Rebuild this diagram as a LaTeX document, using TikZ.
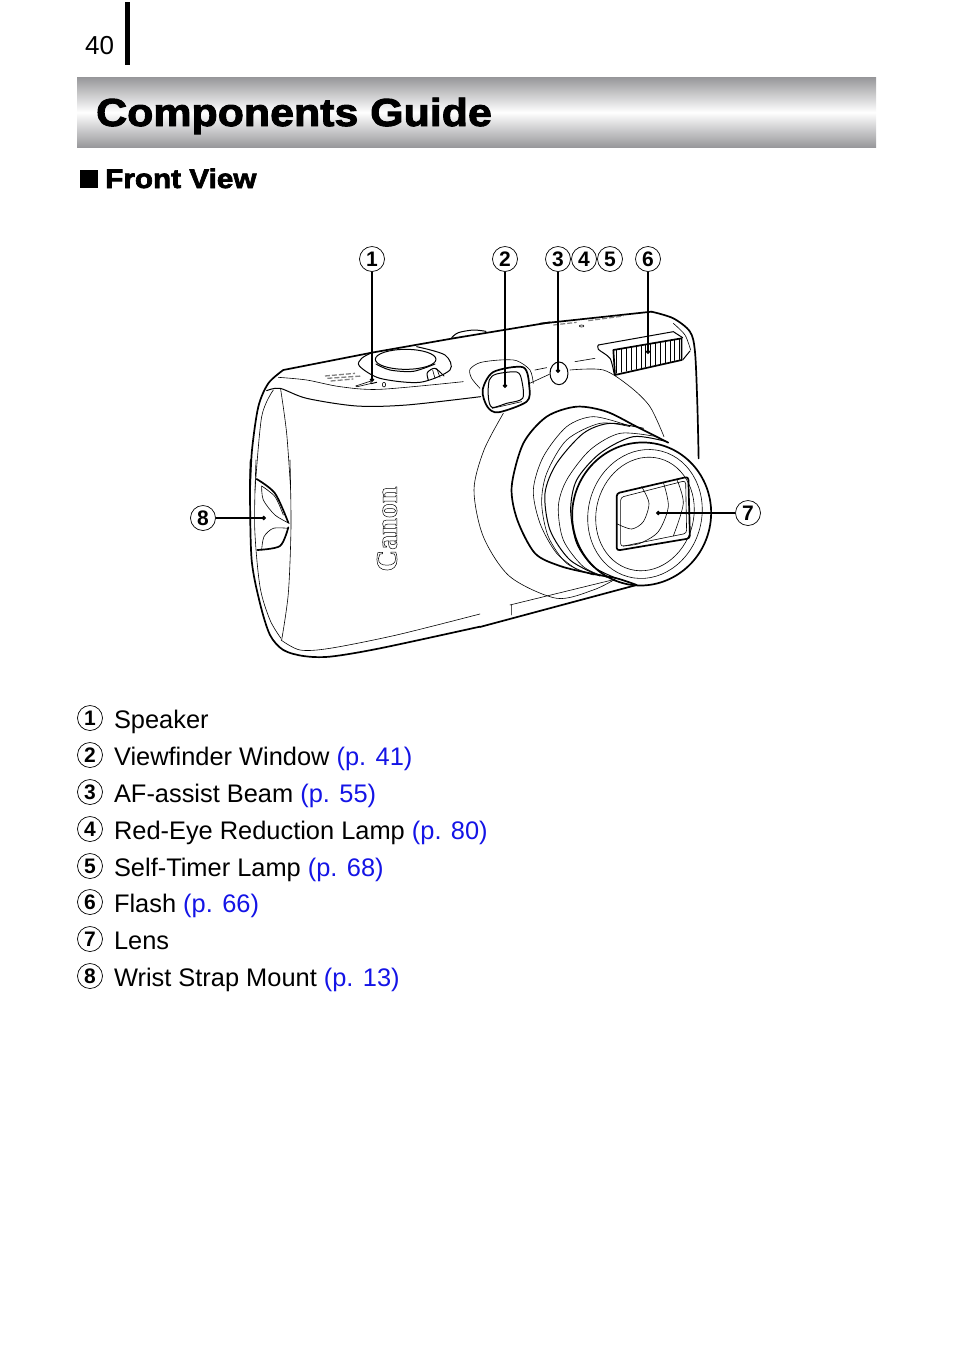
\documentclass[tikz,border=0pt]{standalone}
\usepackage{fontspec}
\setmainfont{Liberation Sans}
\newfontfamily\headfont[FakeBold=2.5,FakeStretch=1.1]{Liberation Sans Bold}
\newfontfamily\logofont{Liberation Serif Bold}
\usetikzlibrary{positioning,arrows.meta}
\definecolor{linkblue}{RGB}{20,20,230}
\definecolor{bandgray}{RGB}{150,150,153}

\begin{document}
\begin{tikzpicture}[
    x=1pt, y=-1pt,
    mark num/.style={circle, draw, line width=0.7pt, minimum size=25pt, inner sep=0pt, font=\fontsize{21}{21}\selectfont\bfseries},
    listtext/.style={inner sep=0pt, text height=24pt, text depth=3pt, font=\fontsize{25.4}{26}\selectfont},
    leader/.style={line width=1.1pt, -{Circle[length=4.5pt]}},
    heavy/.style={line width=1.7pt, line join=round, line cap=round},
    medium/.style={line width=1pt, line join=round, line cap=round},
    fine/.style={line width=0.6pt, line join=round, line cap=round},
    zoomA/.style={shift={(240,290)}, x=0.3333pt, y=-0.3333pt},
    zoomB/.style={shift={(460,290)}, x=0.3333pt, y=-0.3333pt},
    zoomC/.style={shift={(180,460)}, x=0.3333pt, y=-0.3333pt}
]
\useasboundingbox (0,0) rectangle (954,1345);

% Page head
\node[anchor=base west, inner sep=0pt, font=\fontsize{26}{26}\selectfont] (pagenum) at (85,54) {40};
\fill (125,2) rectangle (130,65);
\shade[top color=bandgray, bottom color=bandgray, middle color=white] (77,77) rectangle (876,147.6);
\node[anchor=base west, inner sep=0pt, font=\fontsize{39}{39}\selectfont\headfont] (title) at (96,126) {Components Guide};
\fill (80,170) rectangle (98,188);
\node[anchor=base west, inner sep=0pt, font=\fontsize{27}{27}\selectfont\headfont] (front) at (105,188) {Front View};

% Body, top and left side
\begin{scope}[zoomA]
\draw[heavy] plot[smooth] coordinates {(30,600) (36,480) (55,350) (85,280) (130,240)};
\draw[heavy] (130,240) -- (395,188) -- (640,145) -- (930,97);
\draw[medium] plot[smooth] coordinates {(635,143) (655,128) (700,120) (738,124)};
\draw[fine] plot[smooth] coordinates {(115,262) (200,270) (300,290) (420,298) (670,275)};
\draw[medium] plot[smooth] coordinates {(80,302) (120,295) (200,325) (350,348) (500,345) (722,320)};
\draw[fine] plot[smooth] coordinates {(100,300) (65,380) (45,600)};
\draw[fine] plot[smooth] coordinates {(122,298) (140,430) (152,600)};
% Dial
\draw[medium] plot[smooth] coordinates {(395,188) (365,205) (358,228) (420,265) (540,277) (630,240) (615,195) (530,170)};
\draw[medium] (497,208) ellipse (91 and 30);
\draw[medium] plot[smooth] coordinates {(408,222) (450,240) (520,244) (585,222)};
\draw[medium] plot[smooth] coordinates {(565,270) (562,248) (585,235) (612,258)};
\draw[fine] (590,235) -- (600,262) (578,240) -- (585,265);
% Speaker and small print
\draw[fine] (347,288) -- (390,274) -- (395,280) -- (352,290) -- cycle;
\draw[medium] (393,281) -- (410,277);
\draw[fine] (432,284) ellipse (5 and 7);
\draw[gray, line width=1.3pt, dash pattern=on 5pt off 2pt] (255,258) -- (345,250) (262,265) -- (365,258) (272,273) -- (340,267);
% Viewfinder
\draw[fine] plot[smooth] coordinates {(720,295) (695,265) (690,238) (720,218) (780,210) (830,212) (870,240) (880,280)};
\draw[heavy] plot[smooth cycle] coordinates {(728,300) (760,246) (850,232) (868,290) (860,335) (775,367) (742,350)};
\draw[medium] plot[smooth cycle] coordinates {(748,270) (770,252) (830,246) (845,270) (848,325) (800,340) (756,352) (745,320)};
\draw[fine] (757,355) -- (845,335);
\end{scope}

% Body, right side and lens
\begin{scope}[zoomB]
\draw[heavy] (240,101) -- (575,65);
\draw[heavy] plot[smooth] coordinates {(575,65) (640,85) (690,125) (705,185) (712,340) (716,505)};
\draw[fine] plot[smooth] coordinates {(640,100) (675,135) (692,180)};
\draw[fine] (205,282) -- (268,253) (225,240) -- (260,233) (345,215) -- (405,205);
\draw[medium] (297,250) ellipse (27 and 34);
\draw[fine] (365,108) ellipse (7 and 3);
\draw[gray, line width=1.2pt, dash pattern=on 5pt off 2pt] (280,105) -- (350,97) (385,92) -- (490,78);
% Flash
\draw[medium] plot[smooth] coordinates {(462,250) (450,205) (415,178) (415,165)};
\draw[medium] (415,165) -- (640,125) -- (668,143);
\draw[medium] (668,210) -- (690,183);
\draw[heavy] (460,180) -- (665,145) -- (665,210) -- (465,255) -- cycle;
\foreach \s in {0,...,13} {
  \pgfmathsetmacro{\ta}{470+\s*14.5}
  \pgfmathsetmacro{\tb}{178-\s*2.5}
  \pgfmathsetmacro{\tc}{250-\s*3.2}
  \draw[fine] (\ta,\tb) -- (\ta,\tc);
}
% Front plate
\draw[fine] plot[smooth] coordinates {(130,370) (72,480) (42,600) (70,740) (150,860) (290,925) (400,900) (465,868)};
\draw[fine] plot[smooth] coordinates {(330,240) (430,240) (510,290) (570,350) (612,440)};
% Barrel
\draw[heavy] plot[smooth] coordinates {(625,458) (530,410) (440,365) (350,350) (260,380) (190,460) (155,590) (172,690) (225,790) (300,828) (390,850) (470,865) (530,885)};
\draw[fine] plot[smooth] coordinates {(500,405) (400,380) (320,410) (250,500) (220,600) (240,700) (290,790) (360,845)};
\draw[fine] plot[smooth] coordinates {(510,410) (420,400) (320,450) (260,550) (245,640) (265,740) (320,820) (400,855)};
\draw[medium] plot[smooth] coordinates {(550,415) (450,400) (370,430) (290,520) (255,610) (270,720) (330,810) (420,858)};
\draw[fine] plot[smooth] coordinates {(590,440) (480,430) (390,480) (320,570) (295,650) (310,750) (370,830) (440,862)};
\draw[medium] plot[smooth] coordinates {(620,455) (520,440) (420,490) (350,570) (332,660) (350,760) (400,830) (470,865)};
% Lens front
\draw[heavy, rotate around={-15:(545,672)}] (545,672) ellipse (208 and 215);
\draw[fine, rotate around={-15:(555,672)}] (555,672) ellipse (170 and 195);
\draw[fine, rotate around={-15:(555,672)}] (555,672) ellipse (146 and 172);
\draw[heavy, rounded corners=3pt] (470,610) -- (685,560) -- (690,745) -- (470,782) -- cycle;
\draw[fine, rounded corners=3pt] (482,622) -- (677,572) -- (680,730) -- (482,770) -- cycle;
\draw[fine] plot[smooth] coordinates {(545,590) (567,640) (550,695) (515,717) (472,702)};
\draw[fine] plot[smooth] coordinates {(610,577) (625,650) (595,725) (540,760) (490,768)};
\draw[fine] plot[smooth] coordinates {(650,567) (670,640) (640,738)};
% Bottom edge, right part
\draw[heavy] (530,885) -- (60,1011);
\draw[fine] (465,868) -- (150,945) (155,945) -- (155,975);
\end{scope}

% Body, left and bottom
\begin{scope}[zoomC]
\draw[heavy] plot[smooth] coordinates {(212,0) (210,100) (215,300) (240,430) (270,525) (310,570) (370,588) (450,590) (600,565) (900,500)};
\draw[fine] plot[smooth] coordinates {(228,0) (224,200) (240,380) (270,480) (303,535)};
\draw[fine] plot[smooth] coordinates {(330,0) (333,200) (325,400) (305,540)};
\draw[fine] plot[smooth] coordinates {(303,540) (360,570) (450,565) (650,525) (900,462)};
% Strap mount
\draw[heavy] plot[smooth] coordinates {(230,57) (285,100) (325,188)};
\draw[fine] plot[smooth] coordinates {(245,78) (250,120) (285,165) (328,190)};
\draw[fine] plot[smooth] coordinates {(245,78) (285,110) (310,165)};
\draw[heavy] plot[smooth] coordinates {(325,202) (300,258) (232,270)};
\draw[fine] plot[smooth] coordinates {(245,270) (252,230) (280,205) (325,205)};
\end{scope}

% Logo
\node[rotate=90, inner sep=0pt, font=\fontsize{30}{30}\selectfont\logofont] (logo) at (387,529) {\special{pdf:code q 1 Tr 0.5 w}Canon\special{pdf:code Q}};

% Callouts
\node[mark num] (m1) at (372,259) {1};
\node[mark num] (m2) at (505,259) {2};
\node[mark num] (m3) at (558,259) {3};
\node[mark num] (m4) at (584,259) {4};
\node[mark num] (m5) at (610,259) {5};
\node[mark num] (m6) at (648,259) {6};
\node[mark num] (m7) at (748,513) {7};
\node[mark num] (m8) at (203,518) {8};
\coordinate (speaker) at (372,382);
\coordinate (finder) at (505,388);
\coordinate (lamp) at (558,373);
\coordinate (flash) at (648,354);
\coordinate (lens) at (656,513);
\coordinate (strap) at (266,518);
\draw[leader] (m1) -- (speaker);
\draw[leader] (m2) -- (finder);
\draw[leader] (m3) -- (lamp);
\draw[leader] (m6) -- (flash);
\draw[leader] (m7) -- (lens);
\draw[leader] (m8) -- (strap);

% Parts list
\node[mark num] (n1) at (90,718) {1};
\node[mark num, below=11.3pt of n1] (n2) {2};
\node[mark num, below=11.3pt of n2] (n3) {3};
\node[mark num, below=11.3pt of n3] (n4) {4};
\node[mark num, below=11.3pt of n4] (n5) {5};
\node[mark num, below=10.3pt of n5] (n6) {6};
\node[mark num, below=11.3pt of n6] (n7) {7};
\node[mark num, below=11.3pt of n7] (n8) {8};
\node[listtext, right=11pt of n1] (t1) {Speaker};
\node[listtext, right=11pt of n2] (t2) {Viewfinder Window \textcolor{linkblue}{(p. 41)}};
\node[listtext, right=11pt of n3] (t3) {AF-assist Beam \textcolor{linkblue}{(p. 55)}};
\node[listtext, right=11pt of n4] (t4) {Red-Eye Reduction Lamp \textcolor{linkblue}{(p. 80)}};
\node[listtext, right=11pt of n5] (t5) {Self-Timer Lamp \textcolor{linkblue}{(p. 68)}};
\node[listtext, right=11pt of n6] (t6) {Flash \textcolor{linkblue}{(p. 66)}};
\node[listtext, right=11pt of n7] (t7) {Lens};
\node[listtext, right=11pt of n8] (t8) {Wrist Strap Mount \textcolor{linkblue}{(p. 13)}};

\end{tikzpicture}
\end{document}
